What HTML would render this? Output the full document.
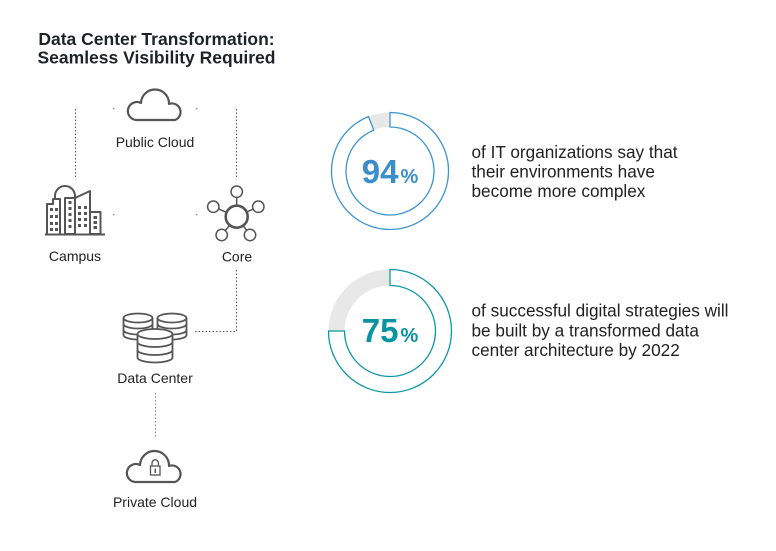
<!DOCTYPE html>
<html><head><meta charset="utf-8"><style>
html,body{margin:0;padding:0;background:#fff;}
svg{display:block;}
text{font-family:"Liberation Sans",sans-serif;}
</style></head><body>
<svg width="776" height="551" viewBox="0 0 776 551" xmlns="http://www.w3.org/2000/svg">
<rect width="776" height="551" fill="#fff"/>
<!-- Title -->
<text x="156.5" y="45" text-anchor="middle" font-size="17.5" font-weight="bold" fill="#1f2327">Data Center Transformation:</text>
<text x="156.5" y="63.5" text-anchor="middle" font-size="17.5" font-weight="bold" fill="#1f2327">Seamless Visibility Required</text>

<!-- dotted connectors -->
<g stroke="#555" stroke-width="1" stroke-dasharray="1.5 2" fill="none">
<line x1="75.5" y1="109" x2="75.5" y2="177"/>
<line x1="236.5" y1="109" x2="236.5" y2="177"/>
<line x1="236.5" y1="270" x2="236.5" y2="331.5"/>
<line x1="195" y1="331.5" x2="236.5" y2="331.5"/>
<line x1="155.5" y1="393" x2="155.5" y2="437" stroke="#888"/>
</g>
<g fill="#888">
<rect x="113" y="108" width="1.3" height="1.3"/>
<rect x="196" y="108" width="1.3" height="1.3"/>
<rect x="113" y="214" width="1.3" height="1.3"/>
<rect x="196" y="214" width="1.3" height="1.3"/>
</g>

<!-- Public cloud -->
<path d="M137,120 A9,9 0 1 1 141,103 A14,14 0 1 1 169,104 A8.5,8.5 0 1 1 175,120 Z" fill="none" stroke="#555" stroke-width="2.2" stroke-linejoin="round"/>
<text x="155" y="147" text-anchor="middle" font-size="14" fill="#222">Public Cloud</text>

<!-- Campus -->
<g stroke="#555" stroke-width="2" fill="#fff" stroke-linejoin="round">
<path d="M55,234 V196 A10,10 0 0 1 75,196 V234"/>
<path d="M47,234 V204 H53 V199 H60 V234"/>
<rect x="65" y="198" width="10" height="36"/>
<path d="M75,234 V198 L90,191 V234"/>
<rect x="90" y="212" width="10.5" height="22"/>
</g>
<line x1="45" y1="234.5" x2="105" y2="234.5" stroke="#555" stroke-width="2"/>
<g fill="#555">
<rect x="50" y="208" width="3" height="3"/><rect x="55" y="208" width="3" height="3"/>
<rect x="50" y="215" width="3" height="3"/><rect x="55" y="215" width="3" height="3"/>
<rect x="50" y="222" width="3" height="3"/><rect x="55" y="222" width="3" height="3"/>
<rect x="50" y="228" width="3" height="3"/><rect x="55" y="228" width="3" height="3"/>
<rect x="68.5" y="201" width="3" height="3"/><rect x="68.5" y="207" width="3" height="3"/>
<rect x="68.5" y="213" width="3" height="3"/><rect x="68.5" y="219" width="3" height="3"/>
<rect x="68.5" y="225" width="3" height="3"/>
<rect x="78" y="206" width="3" height="3"/><rect x="84" y="206" width="3" height="3"/>
<rect x="78" y="212" width="3" height="3"/><rect x="84" y="212" width="3" height="3"/>
<rect x="78" y="218" width="3" height="3"/><rect x="84" y="218" width="3" height="3"/>
<rect x="78" y="224" width="3" height="3"/><rect x="84" y="224" width="3" height="3"/>
<rect x="93.5" y="216" width="3.5" height="3"/><rect x="93.5" y="221" width="3.5" height="3"/>
<rect x="93.5" y="226" width="3.5" height="3"/>
</g>
<text x="75" y="261" text-anchor="middle" font-size="14" fill="#222">Campus</text>

<!-- Core -->
<g stroke="#555" fill="#fff">
<line x1="236.7" y1="216.7" x2="236.7" y2="191.7" stroke-width="1.5"/>
<line x1="236.7" y1="216.7" x2="258.3" y2="206.7" stroke-width="1.5"/>
<line x1="236.7" y1="216.7" x2="213.3" y2="206.7" stroke-width="1.5"/>
<line x1="236.7" y1="216.7" x2="221.7" y2="235" stroke-width="1.5"/>
<line x1="236.7" y1="216.7" x2="250" y2="235" stroke-width="1.5"/>
<circle cx="236.7" cy="216.7" r="11" stroke-width="2.6"/>
<circle cx="236.7" cy="191.7" r="5.7" stroke-width="1.5"/>
<circle cx="258.3" cy="206.7" r="5.7" stroke-width="1.5"/>
<circle cx="213.3" cy="206.7" r="5.7" stroke-width="1.5"/>
<circle cx="221.7" cy="235" r="5.7" stroke-width="1.5"/>
<circle cx="250" cy="235" r="5.7" stroke-width="1.5"/>
</g>
<text x="237" y="261.5" text-anchor="middle" font-size="14" fill="#222">Core</text>

<!-- Data center -->
<g stroke="#555" stroke-width="1.8" fill="#fff">
<path d="M123.5,318 A14.5,4.5 0 0 1 152.5,318 V335 A14.5,4.5 0 0 1 123.5,335 Z"/>
<path d="M123.5,318 A14.5,4.5 0 0 0 152.5,318 M123.5,324 A14.5,4.5 0 0 0 152.5,324 M123.5,330 A14.5,4.5 0 0 0 152.5,330" fill="none"/>
<path d="M157.5,318 A14.5,4.5 0 0 1 186.5,318 V335 A14.5,4.5 0 0 1 157.5,335 Z"/>
<path d="M157.5,318 A14.5,4.5 0 0 0 186.5,318 M157.5,324 A14.5,4.5 0 0 0 186.5,324 M157.5,330 A14.5,4.5 0 0 0 186.5,330" fill="none"/>
<path d="M137.5,334 A17.5,5 0 0 1 172.5,334 V357.5 A17.5,5 0 0 1 137.5,357.5 Z"/>
<path d="M137.5,334 A17.5,5 0 0 0 172.5,334 M137.5,342 A17.5,5 0 0 0 172.5,342 M137.5,350 A17.5,5 0 0 0 172.5,350" fill="none"/>
</g>
<text x="155" y="383" text-anchor="middle" font-size="14" fill="#222">Data Center</text>

<!-- Private cloud -->
<path d="M136,482 A9,9 0 1 1 140,465 A14,14 0 1 1 169,466 A8.5,8.5 0 1 1 175,482 Z" fill="none" stroke="#555" stroke-width="2.2" stroke-linejoin="round"/>
<path d="M152,466 V463 A3.2,3.2 0 0 1 158.4,463 V466" fill="none" stroke="#555" stroke-width="1.3"/>
<rect x="150.5" y="466" width="9.5" height="9" fill="#fff" stroke="#555" stroke-width="1.3"/>
<rect x="154.6" y="468.5" width="1.4" height="4.5" fill="#555"/>
<text x="155" y="507" text-anchor="middle" font-size="14" fill="#222">Private Cloud</text>

<!-- Donut 1 (94%) -->
<path d="M390,112.5 A58.5,58.5 0 0 0 368.5,116.6 L373.8,130.1 A44,44 0 0 1 390,127 Z" fill="#e8e8e8"/>
<path d="M390,112.5 A58.5,58.5 0 1 1 368.5,116.6 L373.8,130.1 A44,44 0 1 0 390,127 Z" fill="none" stroke="#3d95cf" stroke-width="1.3"/>
<text x="390" y="183" text-anchor="middle" font-size="33" font-weight="bold" fill="#3a8fc8">94<tspan font-size="20" dx="2">%</tspan></text>

<!-- Donut 2 (75%) -->
<path d="M390,269.5 A61.5,61.5 0 0 0 328.5,331 L344.5,331 A45.5,45.5 0 0 1 390,285.5 Z" fill="#e8e8e8"/>
<path d="M390,269.5 A61.5,61.5 0 1 1 328.5,331 L344.5,331 A45.5,45.5 0 1 0 390,285.5 Z" fill="none" stroke="#0f98a3" stroke-width="1.3"/>
<text x="390" y="342" text-anchor="middle" font-size="33" font-weight="bold" fill="#0a93a0">75<tspan font-size="20" dx="2">%</tspan></text>

<!-- Right texts -->
<g font-size="17.2" fill="#222">
<text x="471.5" y="158">of IT organizations say that</text>
<text x="471.5" y="177.5">their environments have</text>
<text x="471.5" y="197">become more complex</text>
<text x="471.5" y="316.5">of successful digital strategies will</text>
<text x="471.5" y="336.3">be built by a transformed data</text>
<text x="471.5" y="356">center architecture by 2022</text>
</g>
</svg>
</body></html>
